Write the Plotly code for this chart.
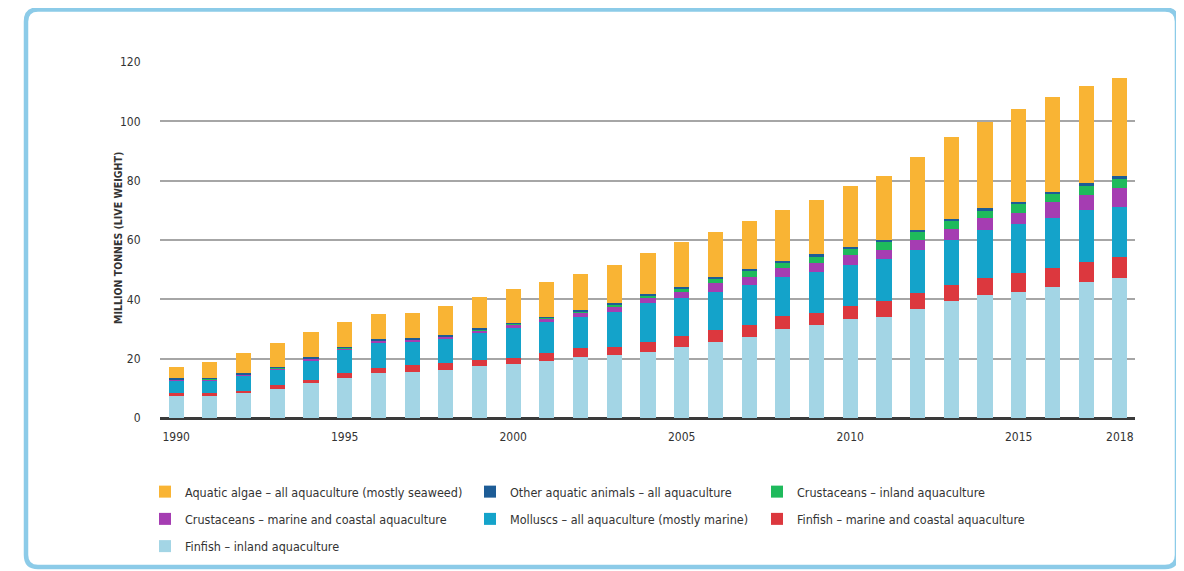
import plotly.graph_objects as go

years = list(range(1990, 2019))

finfish_inland = [7.4, 7.5, 8.6, 9.7, 11.7, 13.4, 15.1, 15.6, 16.3, 17.4, 18.1, 19.3, 20.5, 21.2, 22.4,
                  24.0, 25.7, 27.2, 29.9, 31.3, 33.3, 34.1, 36.6, 39.5, 41.5, 42.6, 44.3, 45.9, 47.1]
finfish_marine = [0.9, 1.0, 0.6, 1.4, 1.1, 1.7, 1.6, 2.3, 2.2, 2.2, 2.0, 2.7, 3.0, 2.8, 3.3,
                  3.6, 4.0, 4.1, 4.5, 4.0, 4.4, 5.3, 5.4, 5.3, 5.6, 6.2, 6.1, 6.8, 7.3]
molluscs = [4.3, 4.2, 5.0, 5.2, 6.5, 7.7, 8.6, 7.7, 8.1, 9.1, 10.2, 10.2, 10.6, 11.6, 13.0,
            12.7, 12.9, 13.5, 13.0, 14.0, 13.9, 14.1, 14.6, 15.2, 16.3, 16.6, 16.9, 17.4, 16.8]
crust_marine = [0.4, 0.4, 0.5, 0.5, 0.6, 0.7, 0.7, 0.8, 0.8, 0.9, 1.1, 1.3, 1.5, 1.9, 1.9,
                2.3, 2.8, 2.6, 3.0, 3.0, 3.3, 3.1, 3.4, 3.6, 3.9, 3.6, 5.6, 5.1, 6.2]
crust_inland = [0.1, 0.1, 0.1, 0.1, 0.1, 0.1, 0.1, 0.1, 0.2, 0.2, 0.3, 0.3, 0.4, 0.7, 0.7,
                1.2, 1.5, 2.2, 2.1, 2.3, 2.2, 2.8, 2.7, 2.7, 2.6, 3.1, 2.6, 3.0, 3.3]
other_animals = [0.3, 0.4, 0.4, 0.4, 0.4, 0.4, 0.4, 0.4, 0.4, 0.4, 0.4, 0.4, 0.4, 0.5, 0.5,
                 0.5, 0.5, 0.5, 0.5, 0.6, 0.6, 0.6, 0.7, 0.7, 0.8, 0.8, 0.8, 0.9, 0.9]
algae = [3.9, 5.2, 6.6, 8.1, 8.7, 8.5, 8.4, 8.6, 9.8, 10.7, 11.4, 11.5, 12.1, 12.9, 13.7,
         15.1, 15.4, 16.4, 17.1, 18.3, 20.5, 21.5, 24.7, 27.8, 29.2, 31.1, 32.0, 32.8, 32.9]

# (name, values, colour, legend box, legend rank)
series = [
    ("Finfish – inland aquaculture", finfish_inland, "#A3D5E5", "legend", 7),
    ("Finfish – marine and coastal aquaculture", finfish_marine, "#DC383E", "legend3", 6),
    ("Molluscs – all aquaculture (mostly marine)", molluscs, "#14A3CA", "legend2", 5),
    ("Crustaceans – marine and coastal aquaculture", crust_marine, "#A53DB2", "legend", 4),
    ("Crustaceans – inland aquaculture", crust_inland, "#1FBA5C", "legend3", 3),
    ("Other aquatic animals – all aquaculture", other_animals, "#1D5C96", "legend2", 2),
    ("Aquatic algae – all aquaculture (mostly seaweed)", algae, "#F9B434", "legend", 1),
]

tick_years = [1990, 1995, 2000, 2005, 2010, 2015, 2018]
y_ticks = [0, 20, 40, 60, 80, 100, 120]

# page is 1184x571 with an 8px body margin: the figure starts at (8, 8)
OFF = 8
W, H = 1184 - OFF, 571 - OFF
# plot area in page pixels: x 160..1135, y 62..418
PL, PR, PT, PB = 160, 1135, 62, 418
ML, MR = PL - OFF, W - (PR - OFF)
MT, MB = PT - OFF, H - (PB - OFF)
PW, PH = PR - PL, PB - PT

def fx(px):
    return (px - PL) / PW

def fy(py):
    return (PB - py) / PH

FONT = "Liberation Sans Narrow, DejaVu Sans Condensed, Arial Narrow, sans-serif"

fig = go.Figure()
for i, (name, vals, color, leg, rank) in enumerate(series):
    fig.add_trace(go.Bar(x=years, y=vals, name=name, marker=dict(color=color, line=dict(width=0)),
                         legend=leg, legendgroup="g%d" % i, legendrank=rank))

leg_common = dict(orientation="v", traceorder="grouped", bgcolor="rgba(0,0,0,0)",
                  font=dict(family=FONT, size=12.5, color="#333333"), tracegroupgap=8,
                  itemwidth=30, yanchor="top", xanchor="left")
leg_top = fy(477)

fig.update_layout(
    width=W, height=H,
    margin=dict(l=ML, r=MR, t=MT, b=MB, pad=0, autoexpand=False),
    barmode="stack", bargap=0.55,
    plot_bgcolor="white", paper_bgcolor="white",
    showlegend=True,
    legend=dict(x=fx(145), y=leg_top, **leg_common),
    legend2=dict(x=fx(470), y=leg_top, **leg_common),
    legend3=dict(x=fx(757), y=leg_top, **leg_common),
    font=dict(family=FONT, color="#333333"),
    xaxis=dict(range=[1989.52, 2018.45], tickvals=tick_years, ticktext=[str(t) for t in tick_years],
               showgrid=False, zeroline=False, showline=False,
               ticks="outside", ticklen=8, tickcolor="rgba(0,0,0,0)",
               tickfont=dict(family=FONT, size=12, color="#333333")),
    yaxis=dict(range=[0, 120], tickvals=y_ticks, showgrid=True, gridcolor="#A6A6A6", gridwidth=1.5,
               zeroline=True, zerolinecolor="#3A3A3A", zerolinewidth=2.5, showline=False,
               ticks="outside", ticklen=16, tickcolor="rgba(0,0,0,0)",
               tickfont=dict(family=FONT, size=12, color="#333333")),
)

fig.add_annotation(text="<b>MILLION TONNES (LIVE WEIGHT)</b>", xref="paper", yref="paper",
                   x=fx(118), y=fy(238), textangle=-90, showarrow=False,
                   font=dict(family=FONT, size=10.5, color="#333333"),
                   xanchor="center", yanchor="middle")

# rounded frame (page pixels x 26..1177, y 9..567)
x0, x1, y0, y1, r = fx(26), fx(1177), fy(567), fy(9.5), 12
rx, ry = r / PW, r / PH
path = (f"M {x0+rx},{y1} L {x1-rx},{y1} Q {x1},{y1} {x1},{y1-ry} L {x1},{y0+ry} "
        f"Q {x1},{y0} {x1-rx},{y0} L {x0+rx},{y0} Q {x0},{y0} {x0},{y0+ry} "
        f"L {x0},{y1-ry} Q {x0},{y1} {x0+rx},{y1} Z")
fig.add_shape(type="path", path=path, xref="paper", yref="paper",
              line=dict(color="#8CCBE8", width=4.5), layer="below")

fig.write_html("out.html")
